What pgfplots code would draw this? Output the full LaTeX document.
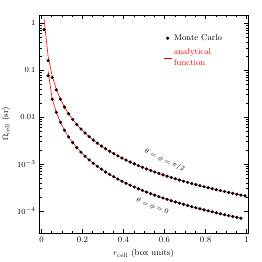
\documentclass[border=0pt]{standalone}
\usepackage{pgfplots}
\pgfplotsset{compat=1.18}
\pgfplotstableread{
r y
0.0125 0.73
0.0325 0.16
0.0525 0.070
0.0725 0.038
0.0925 0.02419
0.1125 0.016356
0.1325 0.011791
0.1525 0.008901
0.1725 0.006956
0.1925 0.005586
0.2125 0.004584
0.2325 0.003829
0.2525 0.003247
0.2725 0.002788
0.2925 0.002419
0.3125 0.0021197
0.3325 0.0018723
0.3525 0.0016659
0.3725 0.0014918
0.3925 0.0013437
0.4125 0.0012165
0.4325 0.0011066
0.4525 0.0010110
0.4725 0.0009272
0.4925 0.0008534
0.5125 0.0007881
0.5325 0.0007300
0.5525 0.0006781
0.5725 0.0006316
0.5925 0.0005896
0.6125 0.0005518
0.6325 0.0005174
0.6525 0.0004862
0.6725 0.0004577
0.6925 0.0004317
0.7125 0.0004078
0.7325 0.0003858
0.7525 0.0003656
0.7725 0.0003469
0.7925 0.0003296
0.8125 0.0003136
0.8325 0.0002987
0.8525 0.0002848
0.8725 0.0002719
0.8925 0.0002599
0.9125 0.0002486
0.9325 0.0002381
0.9525 0.0002282
0.9725 0.0002189
0.9925 0.0002101
}\upperMC
\pgfplotstableread{
r y
0.0125 1.25
0.0325 0.196
0.0525 0.0751
0.0725 0.03938
0.0925 0.02419
0.1125 0.016356
0.1325 0.011791
0.1525 0.008901
0.1725 0.006956
0.1925 0.005586
0.2125 0.004584
0.2325 0.003829
0.2525 0.003247
0.2725 0.002788
0.2925 0.002419
0.3125 0.0021197
0.3325 0.0018723
0.3525 0.0016659
0.3725 0.0014918
0.3925 0.0013437
0.4125 0.0012165
0.4325 0.0011066
0.4525 0.0010110
0.4725 0.0009272
0.4925 0.0008534
0.5125 0.0007881
0.5325 0.0007300
0.5525 0.0006781
0.5725 0.0006316
0.5925 0.0005896
0.6125 0.0005518
0.6325 0.0005174
0.6525 0.0004862
0.6725 0.0004577
0.6925 0.0004317
0.7125 0.0004078
0.7325 0.0003858
0.7525 0.0003656
0.7725 0.0003469
0.7925 0.0003296
0.8125 0.0003136
0.8325 0.0002987
0.8525 0.0002848
0.8725 0.0002719
0.8925 0.0002599
0.9125 0.0002486
0.9325 0.0002381
0.9525 0.0002282
0.9725 0.0002189
0.9925 0.0002101
}\upperAN
\pgfplotstableread{
r y
0.0325 0.076
0.0525 0.02413
0.0725 0.01265
0.0925 0.007772
0.1125 0.005254
0.1325 0.003788
0.1525 0.002859
0.1725 0.002235
0.1925 0.0017946
0.2125 0.0014727
0.2325 0.0012302
0.2525 0.0010430
0.2725 0.0008955
0.2925 0.0007773
0.3125 0.0006810
0.3325 0.0006015
0.3525 0.0005352
0.3725 0.0004793
0.3925 0.0004317
0.4125 0.0003908
0.4325 0.0003555
0.4525 0.0003248
0.4725 0.0002979
0.4925 0.0002742
0.5125 0.0002532
0.5325 0.0002345
0.5525 0.0002178
0.5725 0.0002029
0.5925 0.0001894
0.6125 0.0001773
0.6325 0.0001662
0.6525 0.0001562
0.6725 0.0001470
0.6925 0.0001387
0.7125 0.0001310
0.7325 0.0001239
0.7525 0.0001174
0.7725 0.0001114
0.7925 0.0001059
0.8125 0.0001007
0.8325 0.0000960
0.8525 0.0000915
0.8725 0.0000874
0.8925 0.0000835
0.9125 0.0000799
0.9325 0.0000765
0.9525 0.0000733
0.9725 0.0000703
}\lowerMC
\pgfplotstableread{
r y
0.0325 0.095
0.0525 0.02413
0.0725 0.01265
0.0925 0.007772
0.1125 0.005254
0.1325 0.003788
0.1525 0.002859
0.1725 0.002235
0.1925 0.0017946
0.2125 0.0014727
0.2325 0.0012302
0.2525 0.0010430
0.2725 0.0008955
0.2925 0.0007773
0.3125 0.0006810
0.3325 0.0006015
0.3525 0.0005352
0.3725 0.0004793
0.3925 0.0004317
0.4125 0.0003908
0.4325 0.0003555
0.4525 0.0003248
0.4725 0.0002979
0.4925 0.0002742
0.5125 0.0002532
0.5325 0.0002345
0.5525 0.0002178
0.5725 0.0002029
0.5925 0.0001894
0.6125 0.0001773
0.6325 0.0001662
0.6525 0.0001562
0.6725 0.0001470
0.6925 0.0001387
0.7125 0.0001310
0.7325 0.0001239
0.7525 0.0001174
0.7725 0.0001114
0.7925 0.0001059
0.8125 0.0001007
0.8325 0.0000960
0.8525 0.0000915
0.8725 0.0000874
0.8925 0.0000835
0.9125 0.0000799
0.9325 0.0000765
0.9525 0.0000733
0.9725 0.0000703
}\lowerAN
\begin{document}
\begin{tikzpicture}
\path[use as bounding box] (0,0) rectangle (262pt,262pt);
\begin{axis}[at={(39pt,29pt)}, anchor=south west, scale only axis,
  width=209pt, height=218pt,
  ymode=log, xmin=-0.012, xmax=1.007, ymin=3.4e-5, ymax=1.5,
  xtick={0,0.2,0.4,0.6,0.8,1}, xticklabels={0,0.2,0.4,0.6,0.8,1},
  minor x tick num=3,
  ytick={1e-4,1e-3,0.01,0.1,1},
  yticklabels={$10^{-4}$,$10^{-3}$,$0.01$,$0.1$,$1$},
  tick align=inside, major tick length=4.5pt, minor tick length=2.5pt,
  axis line style={line width=0.6pt}, every tick/.style={black, line width=0.5pt},
  tick label style={font=\fontsize{8.5}{10}\selectfont},
  label style={font=\fontsize{8.5}{10}\selectfont},
  xlabel={$r_{\rm cell}$ (box units)}, ylabel={$\Omega_{\rm cell}$ (sr)},
  legend style={draw=none, fill=none, at={(rel axis cs:0.58,0.93)}, anchor=north west,
    font=\fontsize{8.5}{10}\selectfont, row sep=3pt},
  legend cell align=left,
]
\addlegendimage{black, legend image code/.code={\fill[black] (4pt,0pt) circle (1.4pt);}}
\addlegendentry{Monte Carlo}
\addlegendimage{red, line width=0.6pt, legend image code/.code={\draw[red, line width=0.6pt] (0pt,0pt) -- (8pt,0pt);}}
\addlegendentry{\textcolor{red}{\shortstack[l]{analytical\\function}}}
\addplot[red, line width=0.6pt, forget plot] table[x=r, y=y] {\upperAN};
\addplot[red, line width=0.6pt, forget plot] table[x=r, y=y] {\lowerAN};
\addplot[only marks, mark=*, mark size=1.4pt, black, forget plot] table[x=r, y=y] {\upperMC};
\addplot[only marks, mark=*, mark size=1.4pt, black, forget plot] table[x=r, y=y] {\lowerMC};
\node[rotate=-25, inner sep=1pt, font=\fontsize{7.5}{9}\selectfont] at (axis cs:0.60,1.2e-3) {$\theta=\phi=\pi/2$};
\node[rotate=-22, inner sep=1pt, font=\fontsize{7.5}{9}\selectfont] at (axis cs:0.541,1.25e-4) {$\theta=\phi=0$};
\end{axis}
\end{tikzpicture}
\end{document}
